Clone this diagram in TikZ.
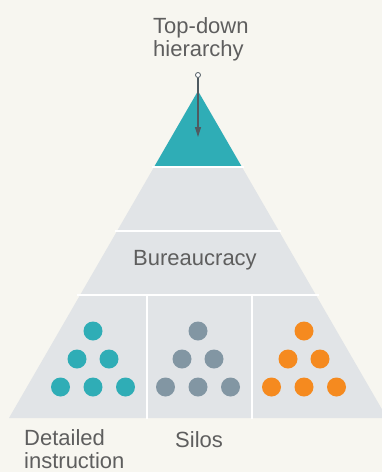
\documentclass[tikz,border=0pt]{standalone}
\usepackage{fontspec}
\setmainfont{Liberation Sans}
\usetikzlibrary{calc,arrows.meta}
\definecolor{paper}{HTML}{F7F6F0}
\definecolor{pyrgray}{HTML}{E1E4E7}
\definecolor{topteal}{HTML}{2FADB6}
\definecolor{dotgray}{HTML}{8296A3}
\definecolor{dotorange}{HTML}{F58A1F}
\definecolor{labelgray}{HTML}{5E5E5E}
\definecolor{arrowgray}{HTML}{4F5A61}
\tikzset{
  label text/.style={text=labelgray,inner sep=0,align=left,font=\fontsize{22}{23.5}\selectfont},
  gap/.style={draw=white,line width=2pt},
  dot/.style={circle,fill=#1,inner sep=0,minimum size=19pt},
}

\begin{document}
\begin{tikzpicture}[x=1pt,y=-1pt]
        \fill[paper] (0,0) rectangle (382,472);
        \useasboundingbox (0,0) rectangle (382,472);
        % pyramid
        \coordinate (apex) at (198,91);
        \coordinate (bl) at (9,418);
        \coordinate (br) at (387,418);
        \fill[pyrgray] (apex) -- (bl) -- (br) -- cycle;
        \fill[topteal] (apex) -- ($(apex)!0.2324!(bl)$) -- ($(apex)!0.2324!(br)$) -- cycle;
        \draw[gap,shorten <=-2pt,shorten >=-2pt] ($(apex)!0.2324!(bl)$) -- ($(apex)!0.2324!(br)$);
        \draw[gap,shorten <=-2pt,shorten >=-2pt] ($(apex)!0.4281!(bl)$) -- ($(apex)!0.4281!(br)$);
        \draw[gap,shorten <=-3pt,shorten >=-3pt] ($(apex)!0.6239!(bl)$) -- ($(apex)!0.6239!(br)$);
        \draw[gap] (147,295) -- (147,419);
        \draw[gap] (252,295) -- (252,419);
        % top-down arrow
        \node[circle,draw=arrowgray,fill=white,inner sep=0,minimum size=5pt,line width=0.8pt] (src) at (198,75){};
        \coordinate (tip) at (198,137);
        \draw[arrowgray,line width=1.2pt,-{Triangle[length=10pt,width=6pt]}] (src) -- (tip);
        % labels
        \node[label text,anchor=north west] (top) at (153,17){Top-down\\hierarchy};
        \node[label text,anchor=base] (bur) at (195,265.5){Bureaucracy};
        \node[label text,anchor=south west] (det) at (24,469){Detailed\\instruction};
        \node[label text,anchor=base west] (sil) at (175,447){Silos};
        % silo groups
        \foreach \cx/\col in {93/topteal,198/dotgray,304/dotorange}{
            \node[dot=\col] at (\cx,331){};
            \node[dot=\col] at (\cx-16,359){};
            \node[dot=\col] at (\cx+16,359){};
            \node[dot=\col] at (\cx-32.5,387){};
            \node[dot=\col] at (\cx,387){};
            \node[dot=\col] at (\cx+32.5,387){};
        }
    \end{tikzpicture}
\end{document}
